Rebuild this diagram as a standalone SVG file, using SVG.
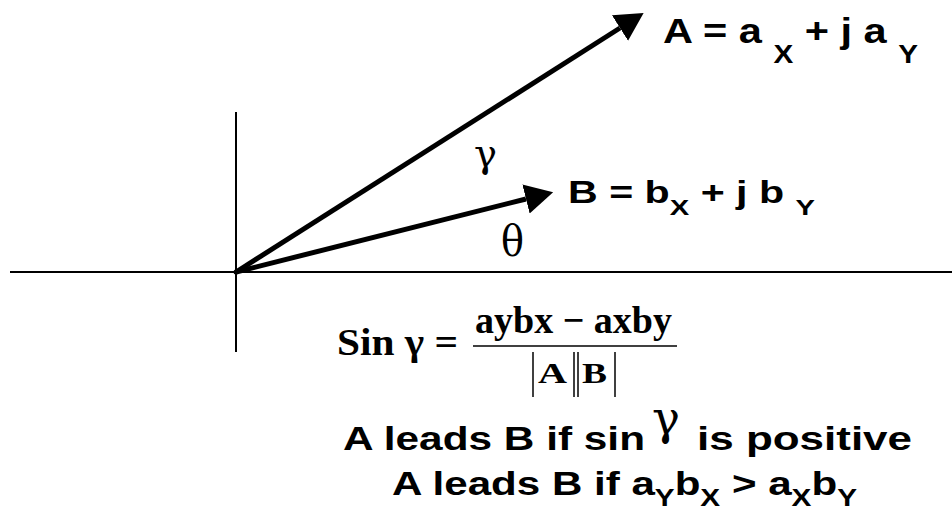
<svg xmlns="http://www.w3.org/2000/svg" width="952" height="510" viewBox="0 0 952 510">
<style>
.axis{stroke:#000;stroke-width:2;fill:none}
.vec{stroke:#000;stroke-width:5;fill:none;marker-end:url(#head)}
.bar{stroke:#000;stroke-width:1.5}
.lbl{font-family:"Liberation Sans",Arial,sans-serif;font-weight:bold;fill:#000}
.greek{font-family:"DejaVu Serif","Liberation Serif",serif;fill:#000}
.math{font-family:"Liberation Serif","Times New Roman",serif;font-weight:bold;fill:#000}
</style>
<defs>
<marker id="head" markerUnits="userSpaceOnUse" markerWidth="32" markerHeight="32" viewBox="0 -16 32 32" refX="0" refY="0" orient="auto">
<path d="M0,-15 L28,0 L0,15 Z" fill="#000"/>
</marker>
</defs>
<rect width="952" height="510" fill="#fff"/>
<g id="axes">
<line class="axis" x1="10" y1="272" x2="952" y2="272"/>
<line class="axis" x1="236" y1="112" x2="236" y2="352"/>
<circle cx="236" cy="272" r="2.5" fill="#000"/>
</g>
<g id="connectors">
<line id="vecA" class="vec" x1="236" y1="272" x2="620" y2="28"/>
<line id="vecB" class="vec" x1="236" y1="272" x2="526" y2="199"/>
</g>
<g id="labelA">
<text class="lbl" x="663" y="43" font-size="35" textLength="255" lengthAdjust="spacingAndGlyphs">A = a <tspan font-size="25" dy="20">X</tspan><tspan dy="-20"> + j a </tspan><tspan font-size="25" dy="20">Y</tspan></text>
</g>
<g id="labelB">
<text class="lbl" x="568" y="203" font-size="31" textLength="247" lengthAdjust="spacingAndGlyphs">B = b<tspan font-size="22" dy="12">X</tspan><tspan dy="-12"> + j b </tspan><tspan font-size="22" dy="12">Y</tspan></text>
</g>
<g id="angleGamma">
<text class="greek" x="474" y="167" font-size="40" textLength="23" lengthAdjust="spacingAndGlyphs">γ</text>
</g>
<g id="angleTheta">
<text class="greek" x="501" y="256" font-size="42" textLength="23" lengthAdjust="spacingAndGlyphs">θ</text>
</g>
<g id="formula">
<text class="math" x="337" y="355" font-size="38" textLength="121" lengthAdjust="spacingAndGlyphs">Sin γ =</text>
<text class="math" x="475" y="333" font-size="38" textLength="197" lengthAdjust="spacingAndGlyphs">aybx − axby</text>
<line x1="473" y1="346" x2="677" y2="346" stroke="#000" stroke-width="1.5"/>
<line class="bar" x1="533" y1="352" x2="533" y2="397"/>
<line class="bar" x1="574" y1="352" x2="574" y2="397"/>
<line class="bar" x1="578" y1="352" x2="578" y2="397"/>
<line class="bar" x1="615" y1="352" x2="615" y2="397"/>
<text class="math" y="383" font-size="30"><tspan x="538" textLength="29" lengthAdjust="spacingAndGlyphs">A</tspan><tspan x="582" textLength="25" lengthAdjust="spacingAndGlyphs">B</tspan></text>
</g>
<g id="statement1">
<text class="lbl" y="450" font-size="34"><tspan x="343" textLength="302" lengthAdjust="spacingAndGlyphs">A leads B if sin</tspan><tspan class="greek" x="652" y="434" font-size="46" font-weight="normal" textLength="28" lengthAdjust="spacingAndGlyphs">γ</tspan><tspan x="697" y="450" textLength="215" lengthAdjust="spacingAndGlyphs">is positive</tspan></text>
</g>
<g id="statement2">
<text class="lbl" x="392" y="495" font-size="34" textLength="465" lengthAdjust="spacingAndGlyphs">A leads B if a<tspan font-size="24" dy="11">Y</tspan><tspan dy="-11">b</tspan><tspan font-size="24" dy="11">X</tspan><tspan dy="-11"> &gt; a</tspan><tspan font-size="24" dy="11">X</tspan><tspan dy="-11">b</tspan><tspan font-size="24" dy="11">Y</tspan></text>
</g>
</svg>
